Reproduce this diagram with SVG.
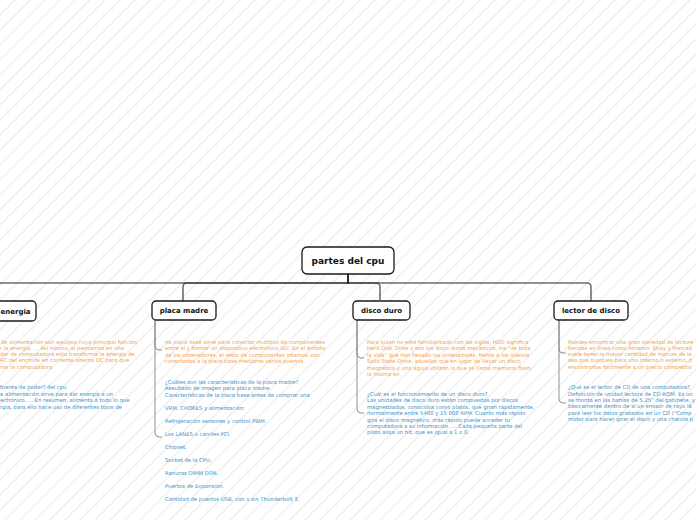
<svg xmlns="http://www.w3.org/2000/svg" width="696" height="520" viewBox="0 0 696 520">
<defs>
<pattern id="bg" patternUnits="userSpaceOnUse" width="15" height="15">
<rect width="15" height="15" fill="#ffffff"/>
<path d="M-2,2 L2,-2 M0,15 L15,0 M13,17 L17,13" stroke="#ececec" stroke-width="1.2"/>
</pattern>
<style>
.node rect{fill:#ffffff;stroke:#1a1a1a;stroke-width:1.3}
.nt{font-family:"DejaVu Sans",Verdana,sans-serif;font-weight:bold;font-size:7px;fill:#111;text-anchor:middle}
.root{font-size:9px}
.main{fill:none;stroke:#222;stroke-opacity:0.65;stroke-width:1.6}
.sub{fill:none;stroke:#777;stroke-opacity:0.8;stroke-width:1}
.o{font-family:"DejaVu Sans",Verdana,sans-serif;font-size:5.3px;fill:#f5a04a}
.b{font-family:"DejaVu Sans",Verdana,sans-serif;font-size:5.3px;fill:#3f8fc6}
</style>
</defs>
<rect width="696" height="520" fill="url(#bg)"/>

<g id="connectors">
<path class="main" d="M348,274 V283 H-18 Q-22,283 -22,287 V301"/>
<path class="main" d="M348,274 V283 H187 Q183,283 183,287 V301"/>
<path class="main" d="M348,274 V283 H376 Q380,283 380,287 V300"/>
<path class="main" d="M348,274 V283 H587 Q591,283 591,287 V301"/>
<path class="sub" d="M155,320 V346 Q155,350 159,350 H162"/>
<path class="sub" d="M155,320 V433 Q155,437 159,437 H162"/>
<path class="sub" d="M357,320 V354 Q357,358 361,358 H364"/>
<path class="sub" d="M357,320 V409 Q357,413 361,413 H364"/>
<path class="sub" d="M559,320 V349 Q559,353 563,353 H566"/>
<path class="sub" d="M559,320 V399 Q559,403 563,403 H566"/>
</g>

<g id="root" class="node">
<rect x="302" y="247" width="92" height="27" rx="5"/>
<text class="nt root" x="348" y="264">partes del cpu</text>
</g>

<g id="energia" class="node">
<rect x="-80" y="301" width="116" height="20" rx="4"/>
<text class="nt" x="0.5" y="313.5" style="text-anchor:start">energia</text>
</g>

<g id="placa-madre" class="node">
<rect x="152" y="301" width="64" height="19" rx="4"/>
<text class="nt" x="184" y="313">placa madre</text>
</g>

<g id="disco-duro" class="node">
<rect x="353" y="301" width="57" height="19" rx="4"/>
<text class="nt" x="381.5" y="313">disco duro</text>
</g>

<g id="lector-de-disco" class="node">
<rect x="554" y="301" width="74" height="19" rx="4"/>
<text class="nt" x="591" y="313">lector de disco</text>
</g>

<g id="energia-text">
<text class="o"><tspan x="1" y="343.7">de alimentación son equipos cuya principal función</tspan><tspan x="0" dy="6.25">r la energía. ... Así mismo, si pensamos en una</tspan><tspan x="0" dy="6.25">der de computadora esta transforma la energía de</tspan><tspan x="0" dy="6.25">AC del enchufe en corriente alterna DC para que</tspan><tspan x="0" dy="6.25">nar la computadora</tspan></text>
<text class="b"><tspan x="0" y="389">fuente de poder? del cpu</tspan><tspan x="0" dy="6.5">e alimentación sirve para dar energía a un</tspan><tspan x="0" dy="6.5">ectrónico. ... En resumen, alimenta a todo lo que</tspan><tspan x="0" dy="6.5">rgía, para ello hace uso de diferentes tipos de</tspan></text>
</g>

<g id="placa-madre-text">
<text class="o"><tspan x="165" y="343.7">na placa base sirve para conectar multitud de componentes</tspan><tspan x="165" dy="6.4">entre sí y formar un dispositivo electrónico útil. En el ámbito</tspan><tspan x="165" dy="6.4">de los ordenadores, el resto de componentes internos van</tspan><tspan x="165" dy="6.4">conectados a la placa base mediante varios puertos.</tspan></text>
<text class="b"><tspan x="165" y="383.7">¿Cuáles son las características de la placa madre?</tspan><tspan x="165" dy="6.5">Resultado de imagen para placa madre</tspan><tspan x="165" dy="6.5">Características de la placa base antes de comprar una</tspan><tspan x="165" dy="13">VRM, CHOKES y alimentación:</tspan><tspan x="165" dy="13">Refrigeración sensores y control PWM.</tspan><tspan x="165" dy="13">Los LANES o carriles PCI.</tspan><tspan x="165" dy="13">Chipset.</tspan><tspan x="165" dy="13">Socket de la CPU.</tspan><tspan x="165" dy="13">Ranuras DIMM DDR.</tspan><tspan x="165" dy="13">Puertos de Expansión.</tspan><tspan x="165" dy="13">Cantidad de puertos USB, con o sin Thunderbolt 3.</tspan></text>
</g>

<g id="disco-duro-text">
<text class="o"><tspan x="367" y="343.7">Para quien no esté familiarizado con las siglas, HDD significa</tspan><tspan x="367" dy="6.45">Hard Disk Drive y son los disco duros mecánicos, los "de toda</tspan><tspan x="367" dy="6.45">la vida" que han llevado los ordenadores, frente a los nuevos</tspan><tspan x="367" dy="6.45">Solid State Drive, aquellos que en lugar de llevar un disco</tspan><tspan x="367" dy="6.45">magnético y una aguja utilizan lo que se llama memoria flash,</tspan><tspan x="367" dy="6.45">la misma en</tspan></text>
<text class="b"><tspan x="367" y="396">¿Cuál es el funcionamiento de un disco duro?</tspan><tspan x="367" dy="6.4">Las unidades de disco duro están compuestas por discos</tspan><tspan x="367" dy="6.4">magnetizados, conocidos como platos, que giran rápidamente,</tspan><tspan x="367" dy="6.4">normalmente entre 5400 y 15 000 RPM. Cuanto más rápido</tspan><tspan x="367" dy="6.4">gira el disco magnético, más rápido puede acceder tu</tspan><tspan x="367" dy="6.4">computadora a su información. ... Cada pequeña parte del</tspan><tspan x="367" dy="6.4">plato aloja un bit, que es igual a 1 o 0.</tspan></text>
</g>

<g id="lector-de-disco-text">
<text class="o"><tspan x="568" y="343.7">Puedes encontrar una gran variedad de lectore</tspan><tspan x="568" dy="6.2">tiendas en línea como Amazon, Ebay y Mercad</tspan><tspan x="568" dy="6.2">suele tener la mayor cantidad de marcas de le</tspan><tspan x="568" dy="6.2">sea que busques para uno interno o externo, p</tspan><tspan x="568" dy="6.2">encontrarlos fácilmente a un precio competitiv</tspan></text>
<text class="b"><tspan x="568" y="389.3">¿Qué es el lector de CD de una computadora?</tspan><tspan x="568" dy="6.3">Definición de unidad lectora de CD-ROM. Es un</tspan><tspan x="568" dy="6.3">se monta en las bahías de 5.25" del gabinete, y</tspan><tspan x="568" dy="6.3">básicamente dentro de sí un emisor de rayo lá</tspan><tspan x="568" dy="6.3">para leer los datos grabados en un CD ("Comp</tspan><tspan x="568" dy="6.3">motor para hacer girar el disco y una charola p</tspan></text>
</g>
</svg>
